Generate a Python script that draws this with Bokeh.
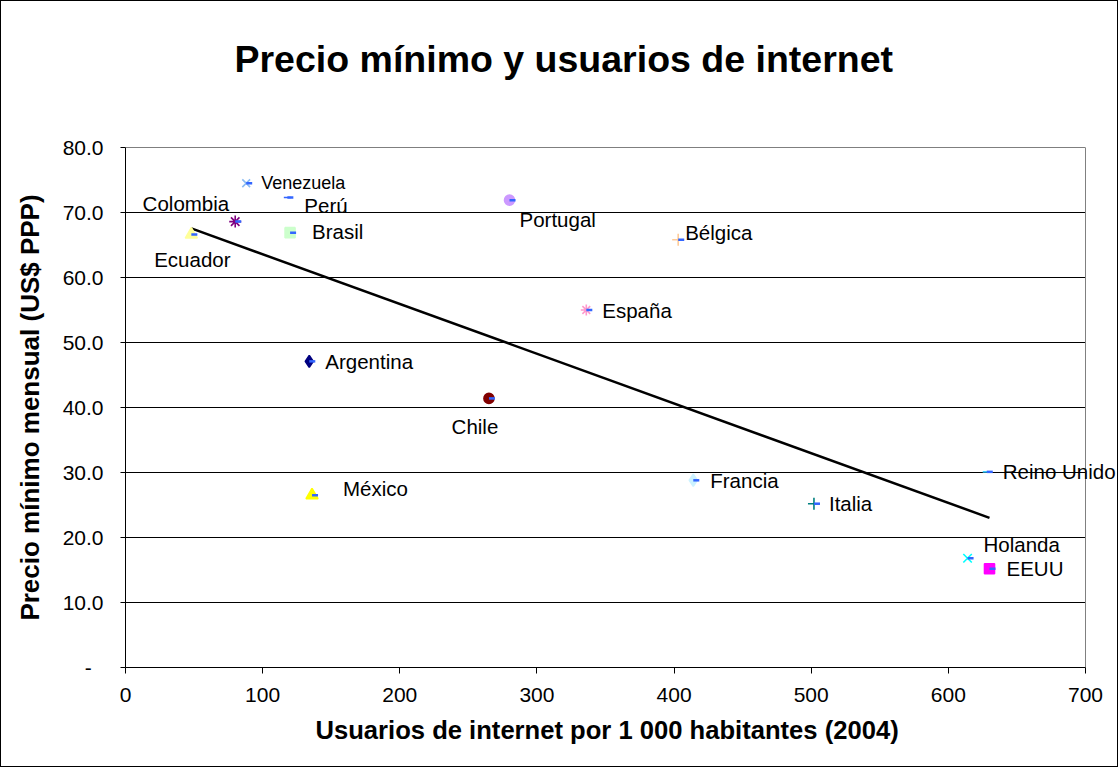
import numpy as np
from bokeh.plotting import figure
from bokeh.models import Range1d, FixedTicker, Label, Title
from bokeh.embed import file_html
from bokeh.resources import INLINE

# ---- data -------------------------------------------------------------
paises = ["Venezuela", "Perú", "Colombia", "Ecuador", "Brasil", "Argentina",
          "Chile", "España", "México", "Portugal", "Bélgica", "Francia",
          "Italia", "Reino Unido", "Holanda", "EEUU"]
usuarios = [88, 118, 80, 48, 120, 134, 265, 336, 136, 280, 403, 414, 502, 628, 614, 630]
precio = [74.5, 72.3, 68.6, 66.6, 66.9, 47.1, 41.4, 55.0, 26.5, 71.9, 65.8, 28.8,
          25.2, 30.1, 16.8, 15.2]

x_ticks = [0, 100, 200, 300, 400, 500, 600, 700]
y_ticks = [0, 10, 20, 30, 40, 50, 60, 70, 80]
y_tick_labels = ["-\u00a0\u00a0", "10.0", "20.0", "30.0", "40.0", "50.0", "60.0", "70.0", "80.0"]

# ---- marker styles per country ----------------------------------------
marcadores = {
    "Venezuela": ("x", "#8cbcf2", 11),
    "Perú": ("dash", "#3366ff", 7),
    "Colombia": ("asterisk", "#800080", 12),
    "Ecuador": ("triangle", "#ffff99", 12),
    "Brasil": ("square", "#ccffcc", 10),
    "Argentina": ("diamond", "#000080", 12),
    "Chile": ("circle", "#800000", 10),
    "España": ("asterisk", "#ff99cc", 11),
    "México": ("triangle", "#ffff00", 12),
    "Portugal": ("circle", "#cc99ff", 10),
    "Bélgica": ("cross", "#ffcc99", 12),
    "Francia": ("diamond", "#ccf2ff", 12),
    "Italia": ("cross", "#008080", 12),
    "Reino Unido": ("dash", "#33ccff", 8),
    "Holanda": ("x", "#00ffff", 12),
    "EEUU": ("square", "#ff00ff", 10),
}

# label placement: (dx px, dy px downwards, align, font size)
etiquetas = {
    "Venezuela": (15, 0, "left", "18px"),
    "Perú": (17, 8, "left", "20.5px"),
    "Colombia": (-6, -18, "right", "20.5px"),
    "Ecuador": (1, 25, "center", "20.5px"),
    "Brasil": (22, -1, "left", "20.5px"),
    "Argentina": (16, 0, "left", "20.5px"),
    "Chile": (-14, 28, "center", "20.5px"),
    "España": (16, 0, "left", "20.5px"),
    "México": (31, -7, "left", "20.5px"),
    "Portugal": (10, 19, "left", "20.5px"),
    "Bélgica": (7, -7, "left", "20.5px"),
    "Francia": (17, 0, "left", "20.5px"),
    "Italia": (15, 0, "left", "20.5px"),
    "Reino Unido": (16, 0, "left", "20.5px"),
    "Holanda": (16, -14, "left", "20.5px"),
    "EEUU": (17, 0, "left", "20.5px"),
}

FONT = "Liberation Sans"

# the plotting frame runs on past 700 so that labels near the right edge
# are not cut off; the visible plot area is drawn up to 700 by hand
W, H = 1118, 767
LEFT, X700 = 124, 1084
x_end = x_ticks[-1] * (W - LEFT) / (X700 - LEFT)

p = figure(width=W, height=H, output_backend="svg", toolbar_location=None,
           x_range=Range1d(0, x_end), y_range=Range1d(0, 80),
           min_border_left=LEFT, min_border_right=0,
           min_border_top=146, min_border_bottom=101,
           background_fill_color="white", border_fill_color="white")
p.styles = {"border": "1px solid black"}

# title, lifted away from the plot area by an empty spacer panel
p.title.text = "Precio mínimo y usuarios de internet"
p.title.text_font = FONT
p.title.text_font_size = "37.5px"
p.title.text_font_style = "bold"
p.title.text_color = "black"
p.title.align = "left"
p.title.vertical_align = "top"
p.title.offset = 109
p.title.standoff = 0
p.add_layout(Title(text=" ", text_font_size="1px", standoff=63), "above")

# frame and grid
p.outline_line_color = None
p.xgrid.grid_line_color = None
p.ygrid.grid_line_color = None
p.segment(x0=[0] * (len(y_ticks) - 1), x1=[x_ticks[-1]] * (len(y_ticks) - 1),
          y0=y_ticks[1:], y1=y_ticks[1:], line_color="black", line_width=1)
p.segment(x0=[x_ticks[-1]], x1=[x_ticks[-1]], y0=[y_ticks[0]], y1=[y_ticks[-1]],
          line_color="#808080", line_width=1)

# axes
p.xaxis.ticker = FixedTicker(ticks=x_ticks)
p.xaxis.bounds = (x_ticks[0], x_ticks[-1])
p.yaxis.ticker = FixedTicker(ticks=y_ticks)
p.yaxis.major_label_overrides = {t: s for t, s in zip(y_ticks, y_tick_labels)}
for ax in (p.xaxis[0], p.yaxis[0]):
    ax.axis_line_color = "black"
    ax.axis_line_width = 1
    ax.major_tick_line_color = "black"
    ax.major_tick_in = 0
    ax.minor_tick_line_color = None
    ax.major_label_text_font = FONT
    ax.major_label_text_font_size = "21px"
    ax.major_label_text_color = "black"
    ax.axis_label_text_font = FONT
    ax.axis_label_text_font_size = "26px"
    ax.axis_label_text_font_style = "bold"
    ax.axis_label_text_color = "black"
p.xaxis.major_tick_out = 6
p.yaxis.major_tick_out = 5
p.xaxis.major_label_standoff = 14
p.yaxis.major_label_standoff = 17
p.yaxis.axis_label = "Precio mínimo mensual (US$ PPP)"
p.yaxis.axis_label_standoff = 15

# x axis title, centred under the 0-700 plot area
p.add_layout(Title(text="Usuarios de internet por 1 000 habitantes (2004)",
                   text_font=FONT, text_font_size="25.6px", text_font_style="bold",
                   text_color="black", align="left", vertical_align="top",
                   offset=190, standoff=22), "below")

# linear trend line over the observed range
pend, orden = np.polyfit(usuarios, precio, 1)
x_lin = [min(usuarios), max(usuarios)]
p.line(x=x_lin, y=[pend * v + orden for v in x_lin], line_color="black", line_width=2.5)

# country markers
p.scatter(x=usuarios, y=precio,
          marker=[marcadores[c][0] for c in paises],
          size=[marcadores[c][2] for c in paises],
          fill_color=[marcadores[c][1] for c in paises],
          line_color=[marcadores[c][1] for c in paises],
          line_width=1.6)

# small blue dash drawn next to every point
p.scatter(x=[u + 2.2 for u in usuarios], y=precio, marker="dash",
          size=6, line_color="#3366ff", line_width=2.5)

# country labels
for c, u, v in zip(paises, usuarios, precio):
    dx, dy, al, fs = etiquetas[c]
    p.add_layout(Label(x=u, y=v, text=c, x_offset=dx, y_offset=-dy,
                       text_align=al, text_baseline="middle",
                       text_font=FONT, text_font_size=fs, text_color="black"))

open("out.html", "w").write(file_html(p, INLINE))
